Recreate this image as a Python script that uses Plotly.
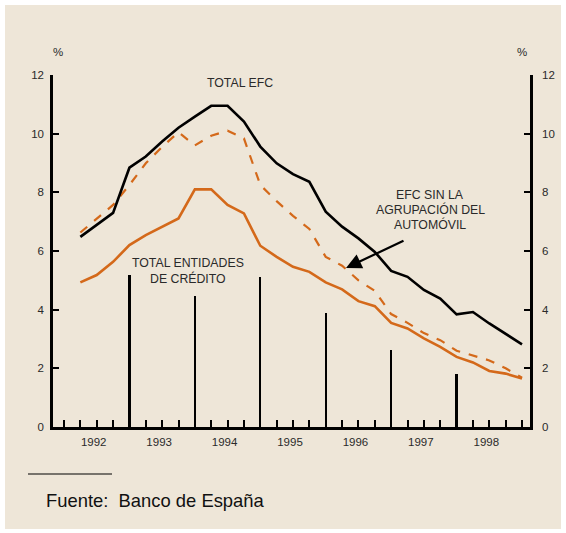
import plotly.graph_objects as go

# ---------------- data ----------------
years = [1992, 1993, 1994, 1995, 1996, 1997, 1998]
quarters = [(y, q) for y in years for q in (1, 2, 3, 4)]  # end-of-quarter observations

total_efc = [6.48, 6.88, 7.30, 8.84, 9.22, 9.73, 10.20, 10.58,
             10.95, 10.95, 10.41, 9.56, 8.99, 8.62, 8.36, 7.34,
             6.83, 6.43, 5.97, 5.32, 5.12, 4.67, 4.38, 3.84,
             3.92, 3.53, 3.19, 2.82]
efc_sin_automovil = [6.63, 7.09, 7.57, 8.25, 8.99, 9.55, 10.05, 9.60,
                     9.93, 10.10, 9.84, 8.25, 7.70, 7.20, 6.75, 5.80,
                     5.50, 5.00, 4.64, 3.85, 3.55, 3.20, 2.96, 2.60,
                     2.43, 2.27, 2.00, 1.68]
total_entidades = [4.93, 5.18, 5.63, 6.20, 6.54, 6.83, 7.11, 8.10,
                   8.10, 7.57, 7.28, 6.18, 5.80, 5.46, 5.29, 4.93,
                   4.69, 4.29, 4.12, 3.55, 3.36, 3.02, 2.73, 2.39,
                   2.20, 1.91, 1.82, 1.65]
separator_years = [1993, 1994, 1995, 1996, 1997, 1998]
separator_heights = [5.18, 4.46, 5.10, 3.90, 2.64, 1.82]
y_ticks = [0, 2, 4, 6, 8, 10, 12]

# ---------------- layout constants ----------------
W, H = 566, 533
L, R, T, B = 53, 530, 75, 427          # plot area in pixels
XR = [1991.832, 1999.122]
YR = [0, 12]
BG = "#EEE6D8"
ORANGE = "#D4691A"
TXT = "#2a2a2a"
FONT = "Liberation Sans, Arial, sans-serif"

def dx(px):
    return XR[0] + (px - L) / (R - L) * (XR[1] - XR[0])

def dy(py):
    return YR[0] + (B - py) / (B - T) * (YR[1] - YR[0])

def px_paper_x(px):
    return (px - L) / (R - L)

def px_paper_y(py):
    return (B - py) / (B - T)

xq = [y + q * 0.25 for (y, q) in quarters]

fig = go.Figure()

fig.add_trace(go.Bar(x=separator_years, y=separator_heights, width=0.036,
                     marker=dict(color="black", line=dict(width=0)),
                     yaxis="y2", showlegend=False, hoverinfo="skip"))
fig.add_trace(go.Scatter(x=xq, y=total_entidades, mode="lines",
                         line=dict(color=ORANGE, width=2.6), showlegend=False))
fig.add_trace(go.Scatter(x=xq, y=efc_sin_automovil, mode="lines",
                         line=dict(color=ORANGE, width=2.2, dash="dash"), showlegend=False))
fig.add_trace(go.Scatter(x=xq, y=total_efc, mode="lines",
                         line=dict(color="black", width=2.6), showlegend=False))

tickvals_x = [1992 + 0.25 * k for k in range(29)]
ticktext_x = [str(int(v)) if abs(v - int(v) - 0.5) < 1e-9 else "" for v in tickvals_x]

axis_font = dict(family=FONT, size=11.5, color=TXT)
common_y = dict(range=YR, tickvals=y_ticks, ticks="inside", ticklen=6, tickwidth=2,
                tickcolor="black", showline=True, linewidth=2.5, linecolor="black",
                showgrid=False, zeroline=False, tickfont=axis_font, fixedrange=True)

fig.update_layout(
    width=W, height=H,
    margin=dict(l=L, r=W - R, t=T, b=H - B, pad=0),
    paper_bgcolor="white",
    plot_bgcolor="rgba(0,0,0,0)",
    showlegend=False,
    bargap=0,
    xaxis=dict(range=XR, tickvals=tickvals_x, ticktext=ticktext_x, ticks="inside",
               ticklen=7, tickwidth=2, tickcolor="black", showline=True, linewidth=2.5,
               linecolor="black", showgrid=False, zeroline=False, tickfont=axis_font,
               tickangle=0, ticklabelshift=-3, ticklabelstandoff=2, fixedrange=True),
    yaxis=dict(side="left", ticklabelstandoff=4, **common_y),
    yaxis2=dict(side="right", overlaying="y", anchor="x", ticklabelstandoff=7, **common_y),
    shapes=[
        dict(type="rect", xref="paper", yref="paper", layer="below",
             x0=px_paper_x(5), x1=px_paper_x(561), y0=px_paper_y(5), y1=px_paper_y(529),
             fillcolor=BG, line=dict(width=0)),
        dict(type="line", xref="paper", yref="paper",
             x0=px_paper_x(28), x1=px_paper_x(112), y0=px_paper_y(474), y1=px_paper_y(474),
             line=dict(color="black", width=1)),
    ],
)

lab_font = dict(family=FONT, size=12.3, color=TXT)
ann = []
def text(px, py, s, font=lab_font, xanchor="center"):
    ann.append(dict(x=px_paper_x(px), y=px_paper_y(py), xref="paper", yref="paper",
                    text=s, showarrow=False, font=font, xanchor=xanchor, yanchor="middle"))

text(240, 83, "TOTAL EFC")
text(188, 263, "TOTAL ENTIDADES")
text(188, 278, "DE CRÉDITO")
text(430, 195, "EFC SIN LA")
text(430, 209.5, "AGRUPACIÓN DEL")
text(430, 224, "AUTOMÓVIL")
text(58, 52, "%", font=dict(family=FONT, size=11.5, color=TXT))
text(522, 52, "%", font=dict(family=FONT, size=11.5, color=TXT))
text(44, 500, "Fuente:\u00a0 Banco de España",
     font=dict(family=FONT, size=18.4, color="#111"), xanchor="left")
# arrow pointing to the dashed series
ann.append(dict(x=dx(346), y=dy(268), xref="x", yref="y", text="", showarrow=True,
                ax=405 - 346, ay=240 - 268, axref="pixel", ayref="pixel",
                arrowhead=2, arrowsize=1.4, arrowwidth=2.2, arrowcolor="black"))
fig.update_layout(annotations=ann)

fig.write_html("out.html", config={"displayModeBar": False},
               post_script="document.body.style.margin='0';document.body.style.overflow='hidden';")
